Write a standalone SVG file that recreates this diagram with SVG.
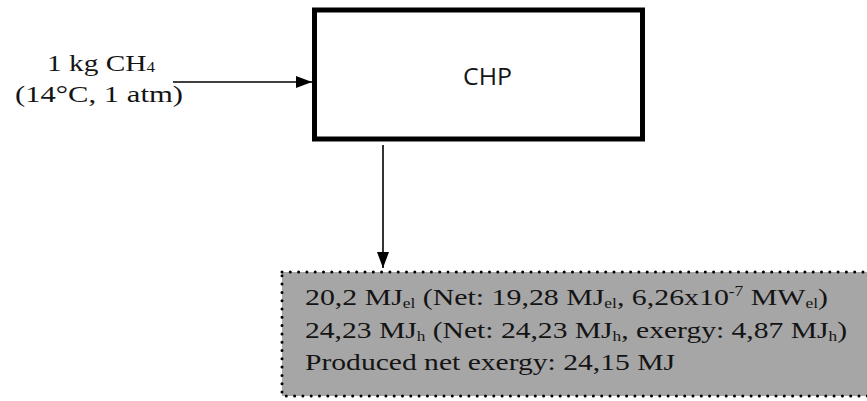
<svg xmlns="http://www.w3.org/2000/svg" width="867" height="401" viewBox="0 0 867 401">
<style>
.serif{font-family:"Liberation Serif","Times New Roman",serif;font-size:24px;fill:#141414}
.sans{font-family:"Open Sans","Liberation Sans",sans-serif;font-size:23px;fill:#141414}
.sub{font-size:14px}
.conn{stroke:#000;stroke-width:1.6;fill:none}
</style>
<defs>
<marker id="ah2" viewBox="0 0 10 10" refX="10" refY="5" markerWidth="16" markerHeight="12" markerUnits="userSpaceOnUse" orient="auto" preserveAspectRatio="none">
<path d="M0,0 L10,5 L0,10 Z" fill="#000"/>
</marker>
</defs>
<g id="input">
<text class="serif" x="47" y="71" textLength="108" lengthAdjust="spacingAndGlyphs">1 kg CH<tspan class="sub" dy="1">4</tspan></text>
<text class="serif" x="15" y="102" textLength="168" lengthAdjust="spacingAndGlyphs">(14°C, 1 atm)</text>
</g>
<g id="chp">
<rect x="314.5" y="10" width="328" height="129" fill="#fff" stroke="#000" stroke-width="5"/>
<text class="sans" x="463" y="85" textLength="49" lengthAdjust="spacingAndGlyphs">CHP</text>
</g>
<g id="output">
<rect x="282" y="272" width="600" height="124" fill="#a6a6a6" stroke="#000" stroke-width="3" stroke-linecap="round" stroke-dasharray="0 8.3"/>
<text class="serif" x="305" y="305" textLength="523" lengthAdjust="spacingAndGlyphs">20,2 MJ<tspan class="sub" dy="3">el</tspan><tspan dy="-3"> (Net: 19,28 MJ</tspan><tspan class="sub" dy="3">el</tspan><tspan dy="-3">, 6,26x10</tspan><tspan class="sub" dy="-9">-7</tspan><tspan dy="9"> MW</tspan><tspan class="sub" dy="3">el</tspan><tspan dy="-3">)</tspan></text>
<text class="serif" x="305" y="338" textLength="542" lengthAdjust="spacingAndGlyphs">24,23 MJ<tspan class="sub" dy="3">h</tspan><tspan dy="-3"> (Net: 24,23 MJ</tspan><tspan class="sub" dy="3">h</tspan><tspan dy="-3">, exergy: 4,87 MJ</tspan><tspan class="sub" dy="3">h</tspan><tspan dy="-3">)</tspan></text>
<text class="serif" x="305" y="370" textLength="370" lengthAdjust="spacingAndGlyphs">Produced net exergy: 24,15 MJ</text>
</g>
<g id="connectors">
<line class="conn" x1="173" y1="82" x2="312" y2="82" marker-end="url(#ah2)"/>
<line class="conn" x1="383" y1="145" x2="383" y2="268" marker-end="url(#ah2)"/>
</g>
</svg>
